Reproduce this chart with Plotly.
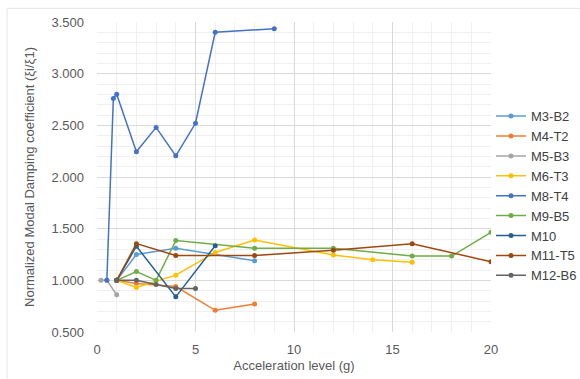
import plotly.graph_objects as go

names = ["M3-B2", "M4-T2", "M5-B3", "M6-T3", "M8-T4", "M9-B5", "M10", "M11-T5", "M12-B6"]
colors = ["#5B9BD5", "#ED7D31", "#A5A5A5", "#FFC000", "#4472C4", "#70AD47", "#255E91", "#9E480E", "#636363"]

m3_x = [1, 2, 4, 8]
m3_y = [1.00, 1.25, 1.31, 1.19]
m4_x = [1, 2, 4, 6, 8]
m4_y = [1.00, 0.97, 0.94, 0.71, 0.77]
m5_x = [0.2, 0.5, 1]
m5_y = [1.00, 1.00, 0.86]
m6_x = [1, 2, 4, 6, 8, 12, 14, 16]
m6_y = [1.00, 0.93, 1.05, 1.27, 1.39, 1.245, 1.20, 1.175]
m8_x = [0.5, 0.83, 1, 2, 3, 4, 5, 6, 9]
m8_y = [1.00, 2.76, 2.80, 2.245, 2.48, 2.205, 2.52, 3.40, 3.435]
m9_x = [1, 2, 3, 4, 8, 12, 16, 18, 20]
m9_y = [1.00, 1.085, 1.00, 1.385, 1.31, 1.31, 1.235, 1.235, 1.465]
m10_x = [1, 2, 4, 6]
m10_y = [1.00, 1.33, 0.84, 1.335]
m11_x = [1, 2, 4, 8, 12, 16, 20]
m11_y = [1.00, 1.355, 1.24, 1.24, 1.29, 1.355, 1.18]
m12_x = [1, 2, 3, 4, 5]
m12_y = [1.00, 1.00, 0.96, 0.92, 0.92]

series_x = [m3_x, m4_x, m5_x, m6_x, m8_x, m9_x, m10_x, m11_x, m12_x]
series_y = [m3_y, m4_y, m5_y, m6_y, m8_y, m9_y, m10_y, m11_y, m12_y]

fig = go.Figure()
for n, c, xs, ys in zip(names, colors, series_x, series_y):
    fig.add_trace(go.Scatter(
        x=xs, y=ys, name=n, mode="lines+markers",
        line=dict(color=c, width=1.5),
        marker=dict(color=c, size=5),
    ))

font = "Liberation Sans, Arial, sans-serif"
fig.update_layout(
    width=580, height=379,
    margin=dict(l=97, r=89, t=22, b=47, autoexpand=False),
    paper_bgcolor="white", plot_bgcolor="white",
    font=dict(family=font, size=13, color="#595959"),
    legend=dict(
        x=(582 - 97) / 394, y=(332 - 196) / 310.3, xanchor="right", yanchor="middle",
        font=dict(size=13, color="#404040"),
        tracegroupgap=0, itemwidth=30,
        bgcolor="rgba(0,0,0,0)",
    ),
    xaxis=dict(
        range=[0, 20], dtick=5, tick0=0, automargin=False,
        showgrid=True, gridcolor="#D9D9D9", gridwidth=1,
        minor=dict(dtick=1, showgrid=True, gridcolor="#EFEFEF", gridwidth=1),
        zeroline=False, showline=False, ticks="",
        ticklabelstandoff=8,
        tickfont=dict(size=13, color="#595959"),
        title=dict(text="Acceleration level (g)", font=dict(size=13, color="#595959"), standoff=4),
    ),
    yaxis=dict(
        range=[0.5, 3.5], dtick=0.5, tick0=0.5, tickformat=".3f", automargin=False,
        showgrid=True, gridcolor="#D9D9D9", gridwidth=1,
        minor=dict(dtick=0.1, showgrid=True, gridcolor="#EFEFEF", gridwidth=1),
        zeroline=False, showline=False, ticks="",
        ticklabelstandoff=12,
        tickfont=dict(size=13, color="#595959"),
        title=dict(text="Normalized Modal Damping coefficient (ξi/ξ1)", font=dict(size=13, color="#595959"), standoff=13),
    ),
    shapes=[
        dict(type="rect", xref="paper", yref="paper",
             x0=(7 - 97) / 394, x1=(600 - 97) / 394,
             y0=(332 - 400) / 310.3, y1=(332 - 8) / 310.3,
             line=dict(color="#E6E6E6", width=1), fillcolor="rgba(0,0,0,0)", layer="below"),
    ],
)

fig.write_html("out.html")
